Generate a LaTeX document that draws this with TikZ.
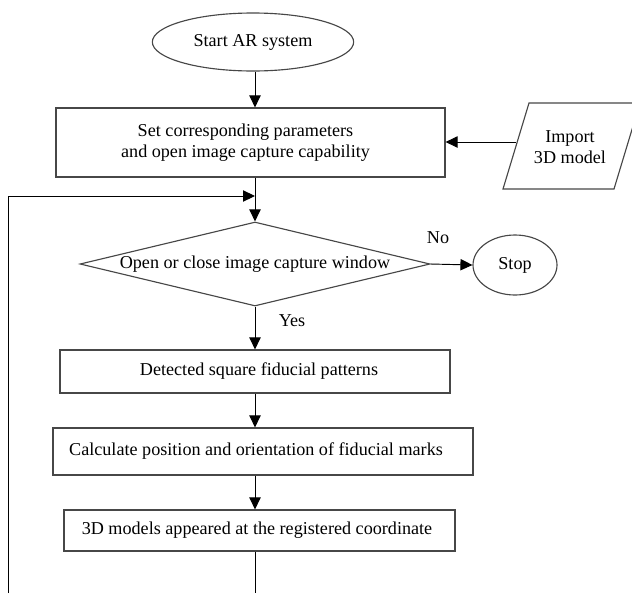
\documentclass[tikz,border=0pt]{standalone}
\usepackage{fontspec}
\setmainfont{Liberation Serif}
\usetikzlibrary{shapes.geometric,arrows.meta}

\begin{document}
\begin{tikzpicture}[x=0.75pt,y=-0.75pt,
  every node/.style={font=\fontsize{13.6}{16}\selectfont},
  shape line/.style={draw=black!72,line width=0.85pt},
  procbox/.style={shape line,rectangle,inner sep=0pt,align=center},
  termina/.style={shape line,ellipse,inner sep=0pt},
  decision/.style={shape line,diamond,inner sep=0pt,aspect=4.17},
  flow/.style={draw=black,line width=0.7pt,-{Triangle[length=9pt,width=8.5pt]}},
  plainflow/.style={draw=black,line width=0.7pt},
  tag/.style={inner sep=0pt}]
\useasboundingbox (0,0) rectangle (632,593);

% main column of the flow
\coordinate (col) at (255,0);

% nodes
\node[termina,minimum width=151pt,minimum height=43.5pt] (start) at (253,42) {Start AR system};
\node[procbox,minimum width=291.75pt,minimum height=51.75pt] (setup) at (250.5,142.5)
  {\hspace*{-7.5pt}Set corresponding parameters\\\hspace*{-7.5pt}and open image capture capability};
\node[decision,minimum width=262.5pt,minimum height=63pt] (window) at (255,264) {Open or close image capture window};
\node[termina,minimum width=63pt,minimum height=45pt] (stop) at (515,265) {Stop};
\node[procbox,minimum width=292.5pt,minimum height=32.25pt] (detect) at (255,371.5) {\hspace*{6pt}Detected square fiducial patterns};
\node[procbox,minimum width=315pt,minimum height=35.25pt] (calc) at (263,451.5) {\hspace*{-10.5pt}Calculate position and orientation of fiducial marks};
\node[procbox,minimum width=293.25pt,minimum height=30.75pt] (models) at (259.5,530.5) {\hspace*{-3.75pt}3D models appeared at the registered coordinate};

% import data: parallelogram with its caption
\node[tag,align=center] (import) at (570,147) {Import\\3D model};
\draw[shape line] (503,189) -- (529,103) -- (640,103) -- (614,189) -- cycle;
\coordinate (importin) at (516,142);

% labels on the decision branches
\node[tag] (nolabel) at (438,238) {No};
\node[tag] (yeslabel) at (292,321) {Yes};

% loop-back entry and open ends at the bottom
\coordinate (loopin) at (255,196);
\coordinate (loopfoot) at (8,593);
\coordinate (flowfoot) at (255,593);

% connectors
\draw[flow] (start.south -| col) -- (col |- setup.north);
\draw[flow] (importin) -- (importin -| setup.east);
\draw[flow] (setup.south -| col) -- (window.north);
\draw[flow] (loopfoot) |- (loopin);
\draw[flow] (window.east) -- (stop.west);
\draw[flow] (window.south) -- (col |- detect.north);
\draw[flow] (detect.south -| col) -- (col |- calc.north);
\draw[flow] (calc.south -| col) -- (col |- models.north);
\draw[plainflow] (models.south -| col) -- (flowfoot);
\end{tikzpicture}
\end{document}
